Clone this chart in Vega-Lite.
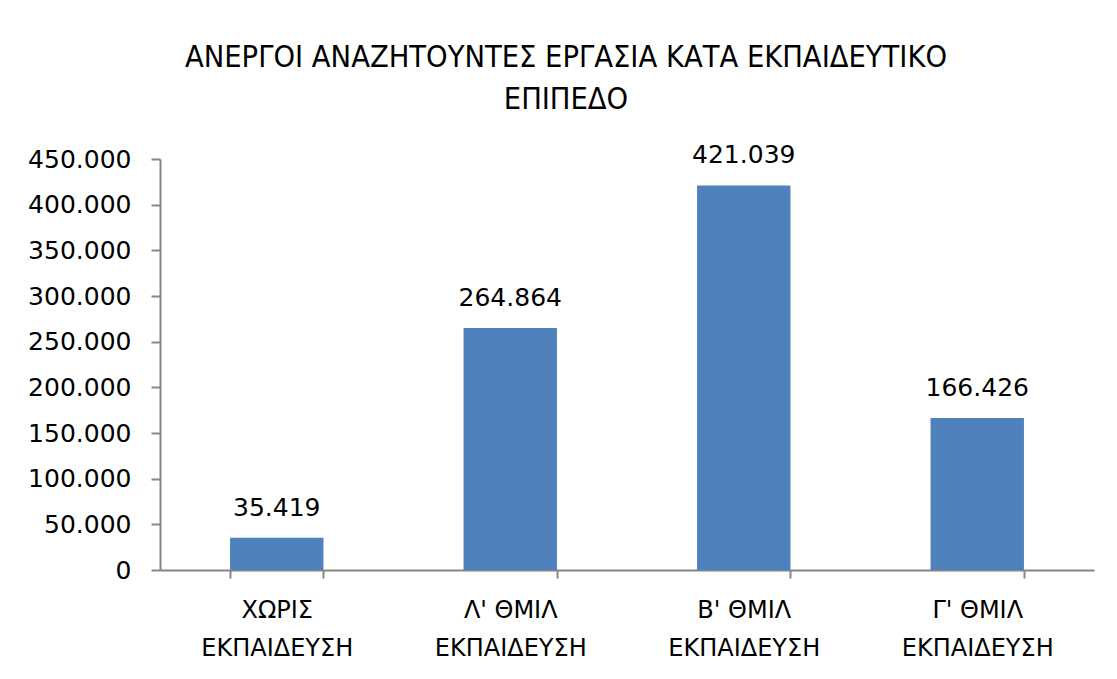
{
  "$schema": "https://vega.github.io/schema/vega-lite/v6.json",
  "autosize": {"type": "none"},
  "padding": {"left": 160, "top": 159, "right": 23, "bottom": 109},
  "width": 934,
  "height": 411,
  "background": "white",
  "config": {
    "locale": {"number": {"decimal": ",", "thousands": ".", "grouping": [3], "currency": ["", " €"]}},
    "view": {"stroke": null},
    "font": "DejaVu Sans"
  },
  "title": {
    "text": ["ΑΝΕΡΓΟΙ ΑΝΑΖΗΤΟΥΝΤΕΣ ΕΡΓΑΣΙΑ ΚΑΤΑ ΕΚΠΑΙΔΕΥΤΙΚΟ", "ΕΠΙΠΕΔΟ"],
    "anchor": "middle",
    "frame": "group",
    "dx": -61,
    "offset": 28,
    "font": "DejaVu Sans Condensed, Liberation Sans Narrow, DejaVu Sans",
    "fontSize": 30.5,
    "fontWeight": "normal",
    "color": "#000000",
    "lineHeight": 42
  },
  "data": {
    "values": [
      {"level": "ΧΩΡΙΣ ΕΚΠΑΙΔΕΥΣΗ", "value": 35419},
      {"level": "Λ' ΘΜΙΛ ΕΚΠΑΙΔΕΥΣΗ", "value": 264864},
      {"level": "Β' ΘΜΙΛ ΕΚΠΑΙΔΕΥΣΗ", "value": 421039},
      {"level": "Γ' ΘΜΙΛ ΕΚΠΑΙΔΕΥΣΗ", "value": 166426}
    ]
  },
  "encoding": {
    "x": {
      "field": "level",
      "type": "nominal",
      "sort": null,
      "scale": {"paddingInner": 0.6, "paddingOuter": 0.3},
      "axis": {
        "title": null,
        "labelAngle": 0,
        "labelExpr": "[substring(datum.label, 0, lastindexof(datum.label, ' ')), substring(datum.label, lastindexof(datum.label, ' ') + 1)]",
        "labelFont": "DejaVu Sans",
        "labelFontSize": 24,
        "labelLineHeight": 38,
        "labelColor": "#000000",
        "labelPadding": 20,
        "domainColor": "#868686",
        "domainWidth": 2,
        "tickColor": "#868686",
        "tickWidth": 2,
        "tickSize": 8,
        "tickBand": "extent"
      }
    },
    "y": {
      "field": "value",
      "type": "quantitative",
      "scale": {"domain": [0, 450000], "nice": false},
      "axis": {
        "title": null,
        "values": [0, 50000, 100000, 150000, 200000, 250000, 300000, 350000, 400000, 450000],
        "format": ",d",
        "grid": false,
        "labelFont": "DejaVu Sans",
        "labelFontSize": 25,
        "labelColor": "#000000",
        "labelPadding": 20,
        "domainColor": "#868686",
        "domainWidth": 2,
        "tickColor": "#868686",
        "tickWidth": 2,
        "tickSize": 9
      }
    }
  },
  "layer": [
    {"mark": {"type": "bar", "color": "#4F81BD"}},
    {
      "mark": {"type": "text", "baseline": "alphabetic", "dy": -22, "fontSize": 25, "font": "DejaVu Sans", "color": "#000000"},
      "encoding": {"text": {"field": "value", "type": "quantitative", "format": ",d"}}
    }
  ]
}
